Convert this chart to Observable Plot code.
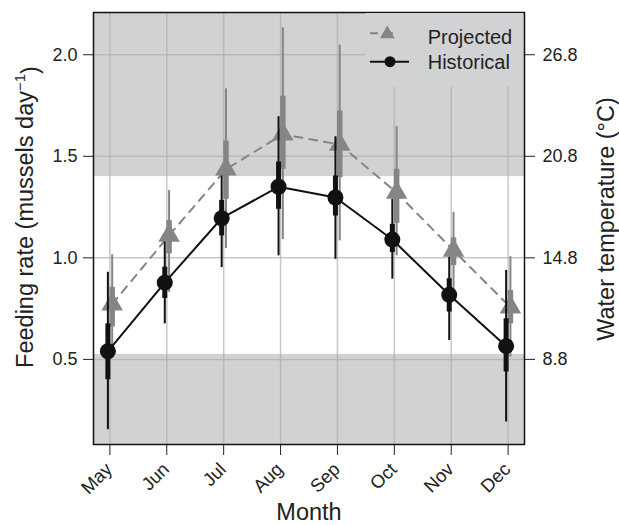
<!DOCTYPE html>
<html><head><meta charset="utf-8">
<script src="https://cdn.jsdelivr.net/npm/d3@7"></script>
<script src="https://cdn.jsdelivr.net/npm/@observablehq/plot@0.6"></script>
<style>
body{margin:0;background:#fff;}
#chart{position:relative;width:619px;height:525px;font-family:"Liberation Sans",Arial,Helvetica,sans-serif;}
#legend{position:absolute;left:365px;top:13px;width:158px;height:74px;background:#d1d2d3;}
</style></head><body><div id="chart"></div>
<script>
const months = ["May","Jun","Jul","Aug","Sep","Oct","Nov","Dec"];
const histMean    = [0.540,0.878,1.195,1.350,1.297,1.090,0.818,0.565];
const histInnerLo = [0.400,0.800,1.108,1.239,1.206,1.026,0.733,0.438];
const histInnerHi = [0.675,0.954,1.283,1.472,1.403,1.165,0.897,0.700];
const histOuterLo = [0.154,0.675,0.952,1.010,0.993,0.895,0.593,0.192];
const histOuterHi = [0.929,1.077,1.403,1.695,1.596,1.288,1.003,0.938];
const projMean    = [0.772,1.110,1.436,1.608,1.558,1.321,1.036,0.757];
const projInnerLo = [0.660,1.020,1.288,1.436,1.395,1.170,0.962,0.675];
const projInnerHi = [0.855,1.183,1.575,1.796,1.723,1.436,1.098,0.839];
const projOuterLo = [0.550,0.830,1.046,1.090,1.084,1.010,0.840,0.511];
const projOuterHi = [1.015,1.331,1.832,2.132,2.047,1.646,1.224,1.006];
const feedTicks = [0.5, 1.0, 1.5, 2.0];
const tempTicks = ["8.8", "14.8", "20.8", "26.8"];
const bandLimits = [0.525, 1.4];
const yDomain = [0.081, 2.208];
const xDomain = [-0.288, 7.288];

const rows = months.map((m, i) => ({
  i, m,
  hm: histMean[i], hil: histInnerLo[i], hih: histInnerHi[i], hol: histOuterLo[i], hoh: histOuterHi[i],
  pm: projMean[i], pil: projInnerLo[i], pih: projInnerHi[i], pol: projOuterLo[i], poh: projOuterHi[i]
}));
const idx = months.map((m, i) => i);
const bands = [{y1: yDomain[0], y2: bandLimits[0]}, {y1: bandLimits[1], y2: yDomain[1]}];

const grey = "#858585", black = "#111";
const font = "Liberation Sans, Arial, Helvetica, sans-serif";

const svg = Plot.plot({
  width: 619, height: 525,
  marginLeft: 93, marginRight: 95, marginTop: 12, marginBottom: 81,
  x: {type: "linear", domain: xDomain},
  y: {type: "linear", domain: yDomain},
  style: {fontFamily: font, fontSize: "18px", background: "white", color: "#222"},
  marks: [
    Plot.rect(bands, {y1: "y1", y2: "y2", fill: "#d1d2d3"}),
    Plot.ruleX(idx, {x: d => d, stroke: "#adadad", strokeOpacity: 0.67, strokeWidth: 1.5}),
    Plot.ruleY(feedTicks, {y: d => d, stroke: "#adadad", strokeOpacity: 0.67, strokeWidth: 1.5}),
    // projected
    Plot.ruleX(rows, {x: "i", y1: "pol", y2: "poh", dx: 2.3, stroke: grey, strokeWidth: 2}),
    Plot.ruleX(rows, {x: "i", y1: "pil", y2: "pih", dx: 2.3, stroke: grey, strokeWidth: 5.5}),
    Plot.line(rows, {x: "i", y: "pm", dx: 2.3, stroke: grey, strokeWidth: 2, strokeDasharray: "8,7"}),
    Plot.dot(rows, {x: "i", y: "pm", dx: 2.3, symbol: "triangle", r: 8, fill: grey, stroke: "none"}),
    // historical
    Plot.ruleX(rows, {x: "i", y1: "hol", y2: "hoh", dx: -2, stroke: black, strokeWidth: 2}),
    Plot.ruleX(rows, {x: "i", y1: "hil", y2: "hih", dx: -2, stroke: black, strokeWidth: 5}),
    Plot.line(rows, {x: "i", y: "hm", dx: -2, stroke: black, strokeWidth: 2}),
    Plot.dot(rows, {x: "i", y: "hm", dx: -2, r: 8, fill: black, stroke: "none"}),
    // axes
    Plot.axisY(feedTicks, {anchor: "left", tickSize: 10, tickPadding: 6, tickFormat: d3.format(".1f"), fontSize: 18, label: null, stroke: "#222"}),
    Plot.axisY(feedTicks, {anchor: "right", tickSize: 10, tickPadding: 8, tickFormat: d => tempTicks[feedTicks.indexOf(d)], fontSize: 18, label: null, stroke: "#222"}),
    Plot.axisX(idx, {anchor: "bottom", tickSize: 11, tickFormat: () => "", label: null, stroke: "#222"}),
    Plot.text(rows, {x: "i", text: "m", frameAnchor: "bottom", dy: 26, dx: 3.5, rotate: -45, textAnchor: "end", lineAnchor: "bottom", fontSize: 18.5, fill: "#222"}),
    Plot.text(["Month"], {text: d => d, frameAnchor: "bottom", dy: 75, lineAnchor: "bottom", fontSize: 23.5, fill: "#222"}),
    Plot.frame({stroke: "#111", strokeWidth: 1.5})
  ]
});

const chart = document.getElementById("chart");
chart.appendChild(svg);
const s = d3.select(svg);
const lt = s.append("text").attr("transform", "translate(33,217) rotate(-90)")
  .attr("text-anchor", "middle").attr("font-size", 23.5).attr("fill", "#222").attr("font-family", font);
lt.append("tspan").text("Feeding rate (mussels day");
lt.append("tspan").attr("dy", "-0.55em").attr("font-size", 15).text("\u22121");
lt.append("tspan").attr("dy", "0.55em").text(")");
s.append("text").attr("transform", "translate(614,219) rotate(-90)")
  .attr("text-anchor", "middle").attr("font-size", 23.5).attr("fill", "#222").attr("font-family", font)
  .text("Water temperature (\u00B0C)");

// legend
const leg = document.createElement("div");
leg.id = "legend";
leg.innerHTML = `<svg width="158" height="74" style="font-family:${font}">
  <line x1="5" x2="35" y1="20.3" y2="20.3" stroke="${grey}" stroke-width="2" stroke-dasharray="8,7"/>
  <path d="${d3.symbol(d3.symbolTriangle, 95)()}" transform="translate(22.3,21)" fill="${grey}"/>
  <text x="62.7" y="31.3" font-size="20" fill="#222">Projected</text>
  <line x1="5" x2="44" y1="48.7" y2="48.7" stroke="${black}" stroke-width="2"/>
  <circle cx="25" cy="48.7" r="5.5" fill="${black}"/>
  <text x="62.7" y="56" font-size="20" fill="#222">Historical</text>
</svg>`;
chart.appendChild(leg);
</script>
</body></html>
